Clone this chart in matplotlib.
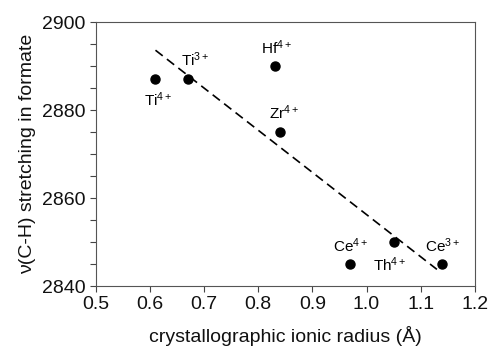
import numpy as np
import matplotlib
matplotlib.use('Agg')
import matplotlib.pyplot as plt

plt.rcParams['font.family'] = ['Liberation Sans', 'DejaVu Sans']
plt.rcParams['mathtext.fontset'] = 'custom'
plt.rcParams['mathtext.rm'] = 'Liberation Sans'
plt.rcParams['mathtext.it'] = 'Liberation Sans:italic'

# ionic radius (A) vs nu(C-H) of formate
ions = ['Ti^{4+}', 'Ti^{3+}', 'Hf^{4+}', 'Zr^{4+}', 'Ce^{4+}', 'Th^{4+}', 'Ce^{3+}']
radius = [0.61, 0.67, 0.83, 0.84, 0.97, 1.05, 1.14]
wavenum = [2887, 2887, 2890, 2875, 2845, 2850, 2845]
# label offsets in points (dx, dy)
offsets = [(2, -15), (5, 14), (1, 13), (3, 14), (0, 13), (-3, -16), (0, 13)]

fig = plt.figure(figsize=(4.92, 3.51), dpi=100)
ax = fig.add_axes([0.195, 0.185, 0.77, 0.752])

ax.plot(radius, wavenum, 'o', color='black', ms=6.5, zorder=3)

# linear trend
coeffs = np.polyfit(radius, wavenum, 1)
xfit = np.linspace(min(radius), max(radius) - 0.01, 50)
ax.plot(xfit, np.polyval(coeffs, xfit), color='black', lw=1.2, dashes=(5.5, 3.2))

for name, x, y, off in zip(ions, radius, wavenum, offsets):
    ax.annotate(r'$\mathregular{%s}$' % name, xy=(x, y), xytext=off,
                textcoords='offset points', ha='center', va='center', fontsize=11)

ax.set_xlim(0.5, 1.2)
ax.set_ylim(2840, 2900)
ax.set_xticks(np.arange(0.5, 1.21, 0.1))
ax.set_xticklabels(['%.1f' % v for v in np.arange(0.5, 1.21, 0.1)])
ax.set_yticks([2840, 2860, 2880, 2900])
ax.set_yticks(np.arange(2840, 2901, 5), minor=True)
ax.tick_params(axis='both', which='major', direction='out', length=4, width=0.8,
               labelsize=14, colors='#444444', labelcolor='#111111')
ax.tick_params(axis='y', which='minor', direction='out', length=4, width=0.8, colors='#444444')
for s in ax.spines.values():
    s.set_color('#555555')
    s.set_linewidth(0.8)

ax.set_xlabel('crystallographic ionic radius (Å)', fontsize=14, labelpad=9, color='#111111')
ax.set_ylabel('ν(C-H) stretching in formate', fontsize=14, labelpad=4, color='#111111')

fig.savefig('out.png', dpi=100)
